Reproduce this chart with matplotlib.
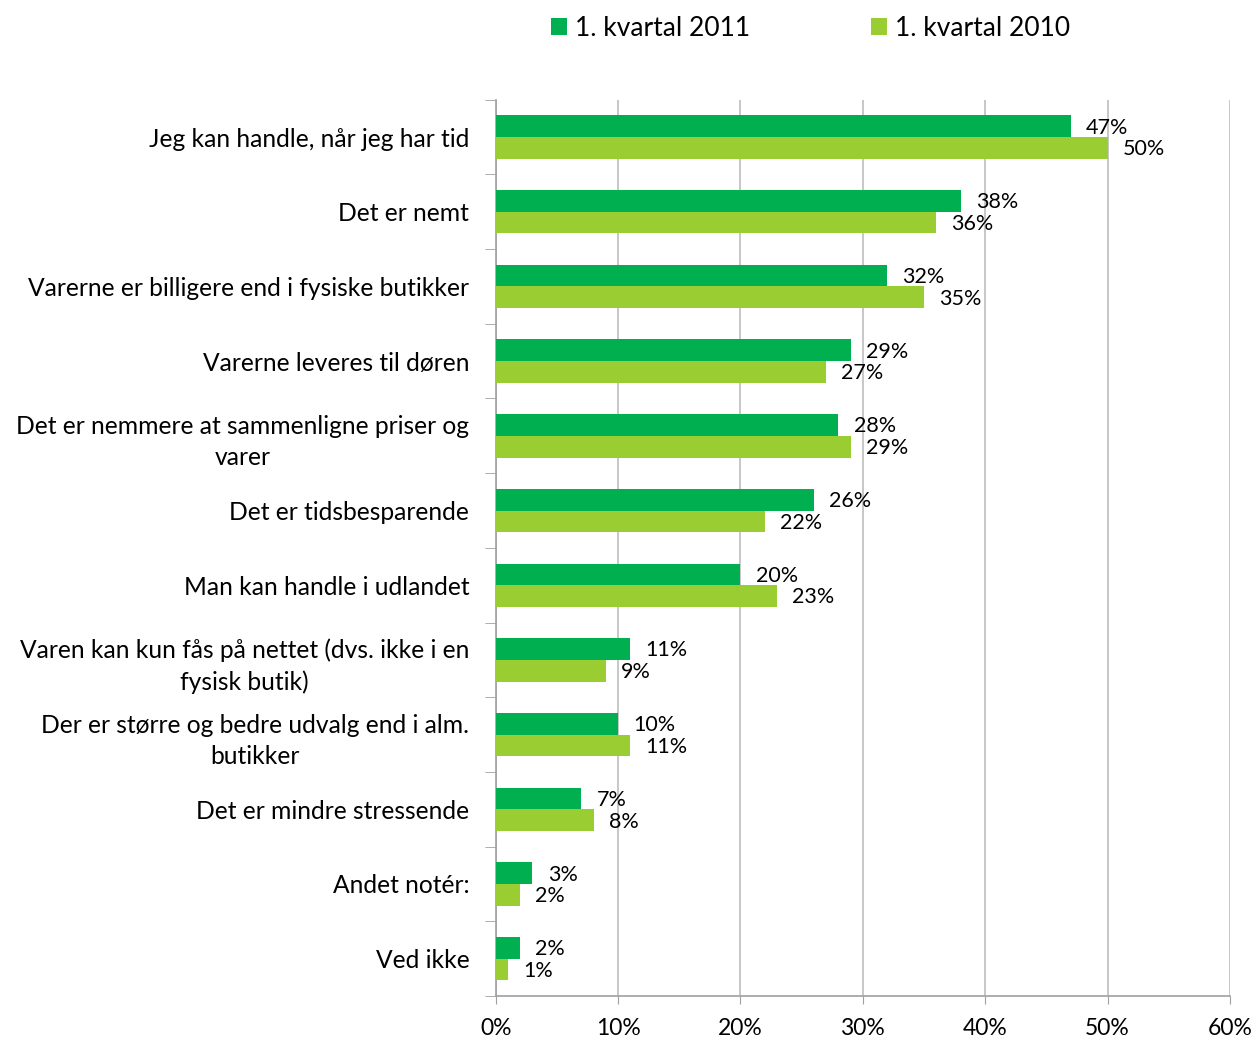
import numpy as np
import matplotlib.pyplot as plt
from matplotlib.ticker import FixedLocator, PercentFormatter

plt.rcParams['font.family'] = ['Lato', 'DejaVu Sans']

categories = [
    'Jeg kan handle, når jeg har tid',
    'Det er nemt',
    'Varerne er billigere end i fysiske butikker',
    'Varerne leveres til døren',
    'Det er nemmere at sammenligne priser og\nvarer',
    'Det er tidsbesparende',
    'Man kan handle i udlandet',
    'Varen kan kun fås på nettet (dvs. ikke i en\nfysisk butik)',
    'Der er større og bedre udvalg end i alm.\nbutikker',
    'Det er mindre stressende',
    'Andet notér:',
    'Ved ikke',
]
q1_2011 = [47, 38, 32, 29, 28, 26, 20, 11, 10, 7, 3, 2]
q1_2010 = [50, 36, 35, 27, 29, 22, 23, 9, 11, 8, 2, 1]
series_names = ['1. kvartal 2011', '1. kvartal 2010']
colors = ['#00B050', '#9ACD32']

fig = plt.figure(figsize=(12.55, 10.41), dpi=100)
ax = fig.add_axes([0.395, 0.0432, 0.585, 0.861])

n = len(categories)
y = np.arange(n)
h = 0.29

b1 = ax.barh(y - h / 2, q1_2011, height=h, color=colors[0], label=series_names[0], zorder=3)
b2 = ax.barh(y + h / 2, q1_2010, height=h, color=colors[1], label=series_names[1], zorder=3)

for bars, vals in ((b1, q1_2011), (b2, q1_2010)):
    for bar, v in zip(bars, vals):
        ax.annotate(f'{v}%', (bar.get_width(), bar.get_y() + bar.get_height() / 2),
                    xytext=(11, -1), textcoords='offset points', va='center', ha='left',
                    fontsize=15.5, color='black')

ax.set_ylim(n - 0.5, -0.5)
ax.set_xlim(0, 60)
ax.set_yticks(y)
ax.set_yticklabels(categories, fontsize=17.7, linespacing=1.45, multialignment='center')
ax.yaxis.set_minor_locator(FixedLocator(np.arange(-0.5, n, 1)))
ax.tick_params(axis='y', which='major', length=0, pad=19)
ax.tick_params(axis='y', which='minor', length=8, color='#A0A0A0')

ax.set_xticks(np.arange(0, 61, 10))
ax.xaxis.set_major_formatter(PercentFormatter(decimals=0))
ax.tick_params(axis='x', length=6, color='#A0A0A0', labelsize=16.5, pad=10)
ax.grid(axis='x', color='#BEBEBE', linewidth=1.2, zorder=0)

for side in ('top', 'right'):
    ax.spines[side].set_visible(False)
for side in ('left', 'bottom'):
    ax.spines[side].set_color('#A0A0A0')
    ax.spines[side].set_linewidth(1.2)

fig.legend(handles=[b1, b2], labels=series_names, loc='center', bbox_to_anchor=(0.646, 0.973),
           ncol=2, frameon=False, fontsize=19, handlelength=0.6, handleheight=0.6,
           handletextpad=0.3, columnspacing=4.6)

fig.savefig('out.png', dpi=100)
